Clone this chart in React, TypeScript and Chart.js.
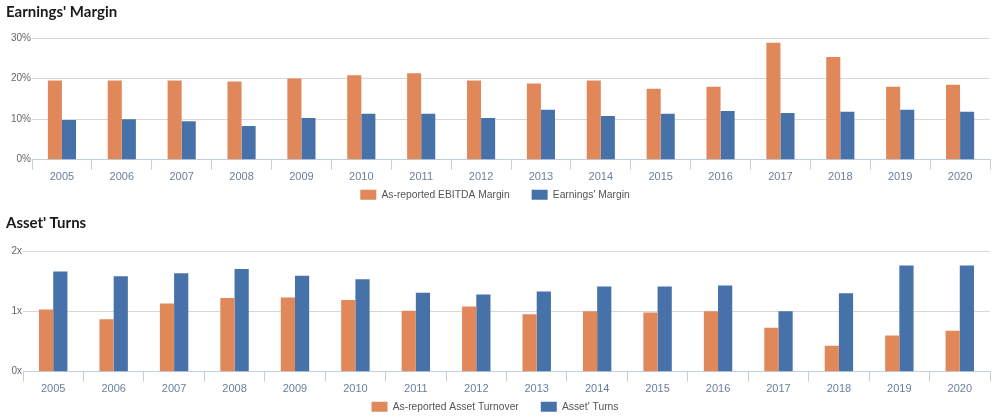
import React, { useEffect, useRef } from "react";
import { Chart, registerables } from "chart.js";

Chart.register(...registerables);

const years = ["2005", "2006", "2007", "2008", "2009", "2010", "2011", "2012", "2013", "2014", "2015", "2016", "2017", "2018", "2019", "2020"];
const ebitdaMargin = [19.5, 19.5, 19.5, 19.3, 20.0, 20.8, 21.3, 19.5, 18.8, 19.5, 17.5, 18.0, 28.8, 25.3, 18.0, 18.5];
const earningsMargin = [9.8, 10.0, 9.5, 8.3, 10.3, 11.3, 11.3, 10.3, 12.3, 10.8, 11.3, 12.0, 11.5, 11.8, 12.3, 11.8];
const assetTurnover = [1.03, 0.87, 1.13, 1.22, 1.23, 1.19, 1.01, 1.08, 0.95, 1.0, 0.98, 1.0, 0.73, 0.43, 0.6, 0.68];
const assetTurns = [1.66, 1.58, 1.63, 1.7, 1.59, 1.53, 1.31, 1.28, 1.33, 1.41, 1.41, 1.43, 1.0, 1.3, 1.76, 1.76];

const marginTicks = [0, 10, 20, 30];
const turnsTicks = [0, 1, 2];

const ORANGE = "#e0885a";
const BLUE = "#4672a9";
const FONT = "'Liberation Sans', Arial, sans-serif";

type Cfg = {
  labelA: string;
  labelB: string;
  a: number[];
  b: number[];
  ticks: number[];
  suffix: string;
  yWidth: number;
  padTop: number;
  legendShift: number;
};

function BarChart(props: Cfg) {
  const ref = useRef<HTMLCanvasElement | null>(null);
  useEffect(() => {
    if (!ref.current) return;
    const { labelA, labelB, a, b, ticks, suffix, yWidth, padTop, legendShift } = props;
    const chart = new Chart(ref.current, {
      type: "bar",
      data: {
        labels: years,
        datasets: [
          { label: labelA, data: a, backgroundColor: ORANGE, borderWidth: 0, categoryPercentage: 0.47, barPercentage: 1 },
          { label: labelB, data: b, backgroundColor: BLUE, borderWidth: 0, categoryPercentage: 0.47, barPercentage: 1 },
        ],
      },
      plugins: [
        {
          id: "shiftLegend",
          afterLayout(c: any) {
            if (c.legend) {
              c.legend.top -= legendShift;
              c.legend.bottom -= legendShift;
            }
          },
        },
      ],
      options: {
        animation: false,
        responsive: true,
        maintainAspectRatio: false,
        layout: { padding: { top: padTop, right: 10, left: 0, bottom: 0 } },
        plugins: {
          tooltip: { enabled: false },
          legend: {
            position: "bottom",
            labels: {
              boxWidth: 16,
              boxHeight: 10,
              padding: 22,
              color: "#555",
              font: { family: FONT, size: 10.3 },
            },
          },
        },
        scales: {
          x: {
            offset: true,
            grid: { offset: true, drawOnChartArea: false, drawTicks: true, tickLength: 10, color: "#c0d0e0" },
            border: { color: "#c0d0e0" },
            ticks: { color: "#6a7f9c", padding: 1, font: { family: FONT, size: 11 }, maxRotation: 0, autoSkip: false },
            afterFit: (s: any) => {
              s.height = 26;
            },
          },
          y: {
            min: ticks[0],
            max: ticks[ticks.length - 1],
            afterBuildTicks: (s: any) => {
              s.ticks = ticks.map((v) => ({ value: v }));
            },
            grid: { color: "#d8d8d8", drawTicks: false },
            border: { display: false },
            ticks: {
              color: "#666",
              padding: 1,
              font: { family: FONT, size: 10 },
              callback: (v: any) => `${v}${suffix}`,
            },
            afterFit: (s: any) => {
              s.width = yWidth;
            },
          },
        },
      },
    });
    return () => chart.destroy();
  }, []);
  return <canvas ref={ref} />;
}

const titleStyle: React.CSSProperties = {
  position: "absolute",
  left: 6,
  fontFamily: "Lato, 'Noto Sans', sans-serif",
  fontWeight: 700,
  fontSize: 15,
  color: "#1a1a1a",
  lineHeight: "18px",
  whiteSpace: "nowrap",
};

export default function App() {
  return (
    <div style={{ position: "fixed", left: 0, top: 0, width: 1000, height: 416, overflow: "hidden", background: "#fff" }}>
      <div style={{ position: "absolute", left: 0, top: 0, width: 1000, height: 228 }}>
        <BarChart
          labelA="As-reported EBITDA Margin"
          labelB="Earnings' Margin"
          a={ebitdaMargin}
          b={earningsMargin}
          ticks={marginTicks}
          suffix="%"
          yWidth={32}
          padTop={38}
          legendShift={18}
        />
      </div>
      <div style={{ position: "absolute", left: 0, top: 212, width: 1000, height: 228 }}>
        <BarChart
          labelA="As-reported Asset Turnover"
          labelB="Asset' Turns"
          a={assetTurnover}
          b={assetTurns}
          ticks={turnsTicks}
          suffix="x"
          yWidth={23}
          padTop={39}
          legendShift={18}
        />
      </div>
      <div style={{ ...titleStyle, top: 2 }}>Earnings' Margin</div>
      <div style={{ ...titleStyle, top: 213 }}>Asset' Turns</div>
    </div>
  );
}
